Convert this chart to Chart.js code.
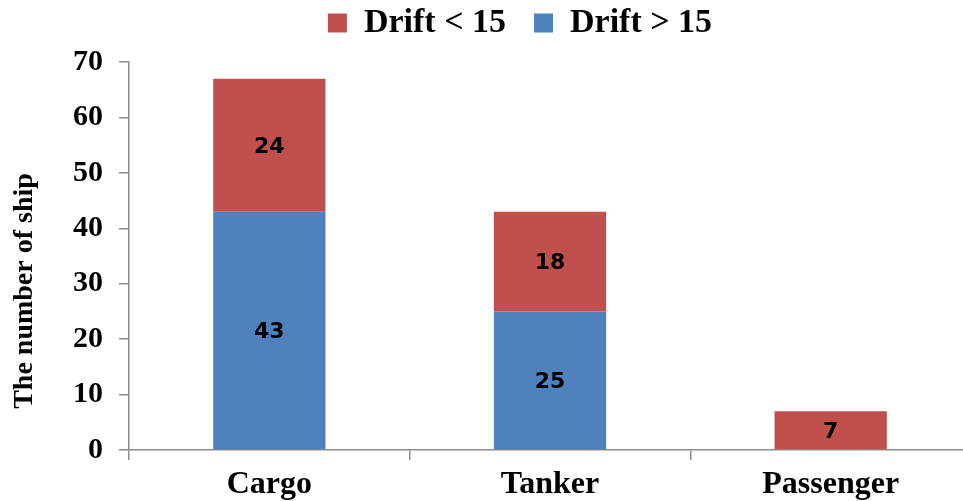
<!DOCTYPE html>
<html>
<head>
<meta charset="utf-8">
<script src="https://cdn.jsdelivr.net/npm/chart.js@4"></script>
<style>
  html, body { margin: 0; padding: 0; background: #fff; overflow: hidden; }
  #wrap { width: 985px; height: 501px; }
</style>
</head>
<body>
<div id="wrap"><canvas id="chart"></canvas></div>
<script>
const categorias = ['Cargo', 'Tanker', 'Passenger'];
const driftMaior = [43, 25, 0];   // Drift > 15 (azul, embaixo)
const driftMenor = [24, 18, 7];   // Drift < 15 (vermelho, em cima)
const ticksY = [0, 10, 20, 30, 40, 50, 60, 70];
const tituloY = 'The number of ship';

const corVermelha = '#C0504D';
const corAzul = '#4F81BD';
const corEixo = '#8C8C8C';
const serif = "'Liberation Serif', 'Times New Roman', serif";

// escreve os valores dentro das barras
const rotulosBarras = {
    id: 'rotulosBarras',
    afterDatasetsDraw(chart) {
        const ctx = chart.ctx;
        ctx.save();
        ctx.font = "bold 22px 'DejaVu Sans', sans-serif";
        ctx.fillStyle = '#000';
        ctx.textAlign = 'center';
        ctx.textBaseline = 'middle';
        chart.data.datasets.forEach((ds, i) => {
            const meta = chart.getDatasetMeta(i);
            meta.data.forEach((bar, j) => {
                const v = ds.data[j];
                if (!v) return;
                const meio = (bar.y + bar.base) / 2 + 2;
                ctx.fillText(String(v), bar.x, meio);
            });
        });
        ctx.restore();
    }
};

// titulo do eixo y, um pouco abaixo do centro como no original
const tituloEixoY = {
    id: 'tituloEixoY',
    afterDraw(chart) {
        const ctx = chart.ctx;
        const area = chart.chartArea;
        ctx.save();
        ctx.translate(25, (area.top + area.bottom) / 2 + 35);
        ctx.rotate(-Math.PI / 2);
        ctx.font = 'bold 28px ' + serif;
        ctx.fillStyle = '#000';
        ctx.textAlign = 'center';
        ctx.textBaseline = 'middle';
        ctx.fillText(tituloY, 0, 0);
        ctx.restore();
    }
};

// legenda: menos altura e um pouco para a direita
const ajustarLegenda = {
    id: 'ajustarLegenda',
    beforeLayout(chart) {
        const lg = chart.legend;
        if (!lg || lg._ajustada) return;
        const fitOriginal = lg.fit;
        lg.fit = function () {
            fitOriginal.call(this);
            this.height -= 10;
        };
        lg._ajustada = true;
    },
    afterLayout(chart) {
        const lg = chart.legend;
        if (!lg) return;
        lg.left += 6;
        lg.right += 6;
        lg.top -= 22;
        lg.bottom -= 22;
    }
};

const ctx = document.getElementById('chart').getContext('2d');
new Chart(ctx, {
    type: 'bar',
    data: {
        labels: categorias,
        datasets: [
            {
                label: 'Drift > 15',
                data: driftMaior,
                backgroundColor: corAzul,
                categoryPercentage: 1,
                barPercentage: 0.4
            },
            {
                label: 'Drift < 15',
                data: driftMenor,
                backgroundColor: corVermelha,
                categoryPercentage: 1,
                barPercentage: 0.4
            }
        ]
    },
    options: {
        responsive: true,
        maintainAspectRatio: false,
        animation: false,
        layout: { padding: { left: 57, right: 14, top: 0, bottom: -9 } },
        plugins: {
            tooltip: { enabled: false },
            legend: {
                display: true,
                position: 'top',
                reverse: true,
                labels: {
                    boxWidth: 19,
                    boxHeight: 19,
                    padding: 28,
                    color: '#000',
                    font: { family: serif, size: 34, weight: 'bold' }
                }
            }
        },
        scales: {
            x: {
                stacked: true,
                border: { color: corEixo, width: 1.5 },
                grid: {
                    drawOnChartArea: false,
                    color: corEixo,
                    tickLength: 10,
                    lineWidth: 1.5
                },
                ticks: {
                    color: '#000',
                    padding: 9,
                    font: { family: serif, size: 32, weight: 'bold', lineHeight: 1 }
                }
            },
            y: {
                stacked: true,
                min: 0,
                max: 70,
                afterBuildTicks(axis) {
                    axis.ticks = ticksY.map(v => ({ value: v }));
                },
                border: { color: corEixo, width: 1.5 },
                grid: {
                    drawOnChartArea: false,
                    color: corEixo,
                    tickLength: 10,
                    lineWidth: 1.5
                },
                ticks: {
                    color: '#000',
                    padding: 16,
                    font: { family: serif, size: 30, weight: 'bold' }
                }
            }
        }
    },
    plugins: [rotulosBarras, tituloEixoY, ajustarLegenda]
});
</script>
</body>
</html>
